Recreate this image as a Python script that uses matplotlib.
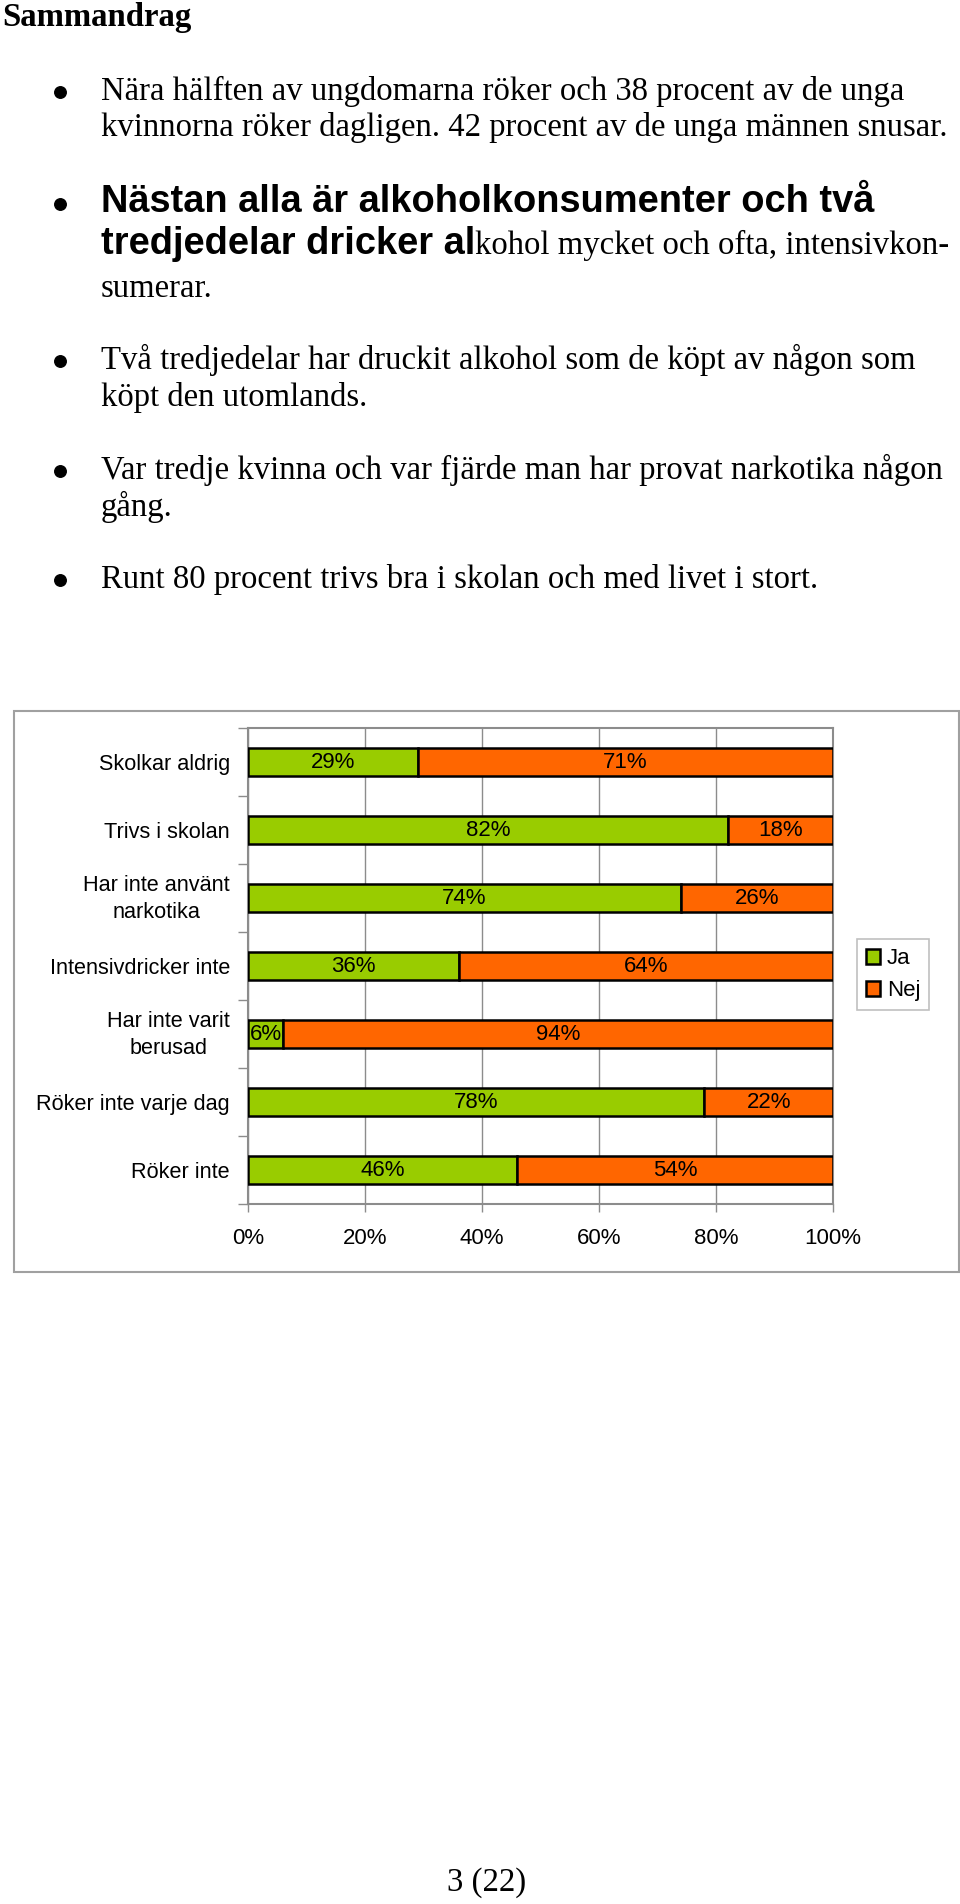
import matplotlib
matplotlib.use("Agg")
import matplotlib.pyplot as plt
from matplotlib.patches import Rectangle, Patch
from matplotlib.lines import Line2D
import matplotlib.transforms as mtransforms

# ---------------- data ----------------
categories = ["Skolkar aldrig", "Trivs i skolan", "Har inte använt\nnarkotika",
              "Intensivdricker inte", "Har inte varit\nberusad",
              "Röker inte varje dag", "Röker inte"]
ja_values = [29, 82, 74, 36, 6, 78, 46]
nej_values = [71, 18, 26, 64, 94, 22, 54]
series_names = ["Ja", "Nej"]
x_ticks = [0, 20, 40, 60, 80, 100]
x_tick_labels = ["0%", "20%", "40%", "60%", "80%", "100%"]

title = "Sammandrag"
bullet_lines = [
    ["Nära hälften av ungdomarna röker och 38 procent av de unga",
     "kvinnorna röker dagligen. 42 procent av de unga männen snusar."],
    ["Två tredjedelar har druckit alkohol som de köpt av någon som",
     "köpt den utomlands."],
    ["Var tredje kvinna och var fjärde man har provat narkotika någon",
     "gång."],
    ["Runt 80 procent trivs bra i skolan och med livet i stort."],
]
bold_line1 = "Nästan alla är alkoholkonsumenter och två"
bold_line2 = "tredjedelar dricker al"
rest_line2 = "kohol mycket och ofta, intensivkon-"
rest_line3 = "sumerar."
page_number = "3 (22)"

GREEN = "#99CC00"
ORANGE = "#FF6600"
GRAY = "#8c8c8c"

W, H = 960, 1904
fig = plt.figure(figsize=(W / 100, H / 100), dpi=100)
fig.patch.set_facecolor("white")

def fx(x):
    return x / W

def fy(y):
    return 1 - y / H

SERIF = "Liberation Serif"
SANS = "Liberation Sans"
BODY = 23.6
BOLD_SANS = 27.4

# ---------------- page text ----------------
fig.text(fx(2), fy(26), title, family=SERIF, weight="bold", fontsize=BODY,
         va="baseline", ha="left")

TEXT_X = 101
BULLET_X = 60

def bullet(y):
    fig.add_artist(Line2D([fx(BULLET_X)], [fy(y - 8)], transform=fig.transFigure,
                          marker="o", markersize=8.3, color="black", linestyle="none"))

# bullet 1
bullet(100)
fig.text(fx(TEXT_X), fy(100), bullet_lines[0][0], family=SERIF, fontsize=BODY, va="baseline")
fig.text(fx(TEXT_X), fy(136), bullet_lines[0][1], family=SERIF, fontsize=BODY, va="baseline")

# bullet 2 (mixed)
bullet(212)
fig.text(fx(TEXT_X), fy(212), bold_line1, family=SANS, weight="bold", fontsize=BOLD_SANS,
         va="baseline")
t_bold = fig.text(fx(TEXT_X), fy(254), bold_line2, family=SANS, weight="bold",
                  fontsize=BOLD_SANS, va="baseline")
renderer = fig.canvas.get_renderer()
bb = t_bold.get_window_extent(renderer=renderer)
fig.text(bb.x1 / W, fy(254), rest_line2, family=SERIF, fontsize=BODY, va="baseline")
fig.text(fx(TEXT_X), fy(297), rest_line3, family=SERIF, fontsize=BODY, va="baseline")

# bullets 3-5
for lines, ys in zip(bullet_lines[1:], [[369, 406], [479, 516], [588]]):
    bullet(ys[0])
    for line, y in zip(lines, ys):
        fig.text(fx(TEXT_X), fy(y), line, family=SERIF, fontsize=BODY, va="baseline")

fig.text(fx(487), fy(1891), page_number, family=SERIF, fontsize=BODY,
         va="baseline", ha="center")

# ---------------- chart frame ----------------
fig.add_artist(Rectangle((fx(14), fy(1272)), fx(959) - fx(14), fy(711) - fy(1272),
                         transform=fig.transFigure, fill=False,
                         edgecolor="#a0a0a0", linewidth=1.5))

# ---------------- chart ----------------
L, R, T, B = 248, 833, 728, 1204
ax = fig.add_axes([fx(L), fy(B), fx(R) - fx(L), fy(T) - fy(B)])
ypos = list(range(len(categories)))
ax.barh(ypos, ja_values, height=0.42, color=GREEN, edgecolor="black",
        linewidth=1.8, label=series_names[0], zorder=3)
ax.barh(ypos, nej_values, left=ja_values, height=0.42, color=ORANGE,
        edgecolor="black", linewidth=1.8, label=series_names[1], zorder=3)

for i, (a, b) in enumerate(zip(ja_values, nej_values)):
    ax.text(a / 2, i, f"{a}%", ha="center", va="center", fontsize=16,
            family=SANS, zorder=4)
    ax.text(a + b / 2, i, f"{b}%", ha="center", va="center", fontsize=16,
            family=SANS, zorder=4)

ax.set_xlim(0, 100)
ax.set_ylim(len(categories) - 0.5, -0.5)
ax.set_xticks(x_ticks)
ax.set_xticklabels(x_tick_labels, family=SANS, fontsize=16)
ax.tick_params(axis="x", direction="out", length=6, width=1, color=GRAY, pad=11)

ax.set_yticks([i - 0.5 for i in range(len(categories) + 1)])
ax.set_yticklabels([])
ax.tick_params(axis="y", which="major", direction="out", length=7, width=1, color=GRAY)
ax.set_yticks(ypos, minor=True)
ax.set_yticklabels(categories, minor=True, family=SANS, fontsize=15.6)
ax.tick_params(axis="y", which="minor", length=0, pad=13)
shift_up = mtransforms.ScaledTranslation(0, 3.5 / 72, fig.dpi_scale_trans)
for lab in ax.get_yticklabels(minor=True):
    lab.set_multialignment("center")
    lab.set_linespacing(1.4)
    if "\n" in lab.get_text():
        lab.set_transform(lab.get_transform() + shift_up)

ax.grid(axis="x", color=GRAY, linewidth=1, zorder=0)
ax.set_axisbelow(True)
for s in ax.spines.values():
    s.set_color(GRAY)
    s.set_linewidth(1.5)

handles = [Patch(facecolor=GREEN, edgecolor="black", linewidth=1.8),
           Patch(facecolor=ORANGE, edgecolor="black", linewidth=1.8)]
leg = fig.legend(handles, series_names, loc="upper left",
                 bbox_to_anchor=(fx(857), fy(939)), borderaxespad=0,
                 prop={"family": SANS, "size": 16}, frameon=True, fancybox=False,
                 edgecolor="#b0b0b0", handlelength=0.65, handleheight=0.65,
                 handletextpad=0.3, labelspacing=0.5, borderpad=0.4)
leg.get_frame().set_linewidth(1.2)

fig.savefig("out.png", dpi=100, facecolor="white")
